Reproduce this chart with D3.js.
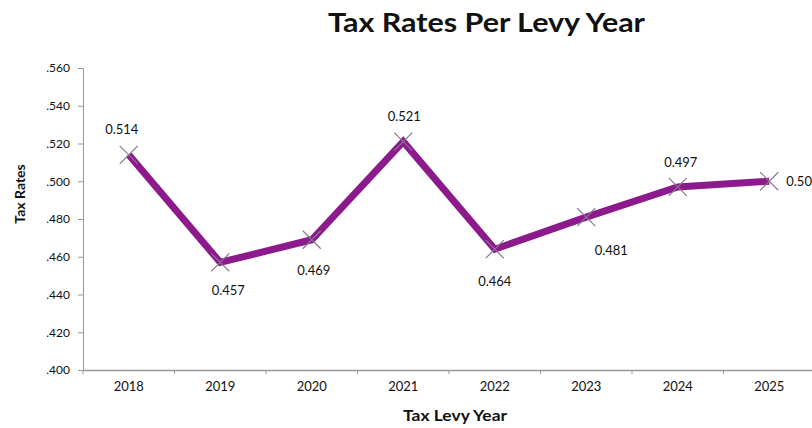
<!DOCTYPE html>
<html>
<head>
<meta charset="utf-8">
<script src="https://cdn.jsdelivr.net/npm/d3@7"></script>
<style>
  html, body { margin: 0; padding: 0; background: #fff; }
  svg { display: block; }
  text { font-family: Lato, "Open Sans", sans-serif; fill: #111; }
</style>
</head>
<body>
<svg id="chart" width="812" height="428"></svg>
<script>
// Levy years and their tax rates
const years = ["2018", "2019", "2020", "2021", "2022", "2023", "2024", "2025"];
const rates = [0.514, 0.457, 0.469, 0.521, 0.464, 0.481, 0.497, 0.500];
const rateLabels = ["0.514", "0.457", "0.469", "0.521", "0.464", "0.481", "0.497", "0.500"];
const yTicks = [0.40, 0.42, 0.44, 0.46, 0.48, 0.50, 0.52, 0.54, 0.56];
// where each value label sits relative to its point: [dx, dy]
const labelOffsets = [[-7, -21], [8, 33], [2, 35], [1, -21], [0, 37], [25, 38], [3, -20], [17, 5]];

const svg = d3.select("#chart");
const m = { left: 83, right: 815, top: 68, bottom: 370 };

const x = d3.scaleBand().domain(years).range([m.left, m.right]);
const y = d3.scaleLinear().domain([0.40, 0.56]).range([m.bottom, m.top]);

// Y axis
const yAxis = svg.append("g")
  .attr("transform", `translate(${m.left},0)`)
  .call(d3.axisLeft(y).tickValues(yTicks).tickSize(5).tickPadding(8)
    .tickFormat(d => d3.format(".3f")(d).replace(/^0/, "")));
yAxis.selectAll("path, line").attr("stroke", "#999");
yAxis.selectAll("text").attr("font-size", 12).attr("fill", "#222");

// X axis with ticks between categories
const xAxis = svg.append("g")
  .attr("transform", `translate(0,${m.bottom})`)
  .call(d3.axisBottom(x).tickSize(0).tickPadding(12));
xAxis.select("path").attr("stroke", "#999").attr("stroke-width", 1.5);
xAxis.selectAll("text").attr("font-size", 13).attr("fill", "#222");
svg.append("g").selectAll("line")
  .data(years.concat(["end"]))
  .join("line")
  .attr("x1", (d, i) => m.left + i * x.step())
  .attr("x2", (d, i) => m.left + i * x.step())
  .attr("y1", m.bottom)
  .attr("y2", m.bottom + 4)
  .attr("stroke", "#999");

// Rate line
const cx = (d, i) => x(years[i]) + x.bandwidth() / 2;
const line = d3.line().x((d, i) => cx(d, i)).y(d => y(d));
svg.append("path")
  .datum(rates)
  .attr("d", line)
  .attr("fill", "none")
  .attr("stroke", "#8c1a8c")
  .attr("stroke-width", 7)
  .attr("stroke-linejoin", "miter");

// X-shaped markers
const mk = 9;
const markers = svg.append("g");
rates.forEach((d, i) => {
  const px = cx(d, i), py = y(d);
  markers.append("path")
    .attr("d", `M${px - mk},${py - mk}L${px + mk},${py + mk}M${px - mk},${py + mk}L${px + mk},${py - mk}`)
    .attr("stroke", "#8a7590")
    .attr("stroke-width", 1.2)
    .attr("fill", "none");
});

// Value labels
svg.append("g").selectAll("text")
  .data(rates)
  .join("text")
  .attr("x", (d, i) => cx(d, i) + labelOffsets[i][0])
  .attr("y", (d, i) => y(d) + labelOffsets[i][1])
  .attr("text-anchor", (d, i) => i === 7 ? "start" : "middle")
  .attr("font-size", 13)
  .text((d, i) => rateLabels[i]);

// Titles
svg.append("text")
  .attr("x", 328).attr("y", 32)
  .attr("font-size", 27).attr("font-weight", "bold")
  .attr("textLength", 317).attr("lengthAdjust", "spacingAndGlyphs")
  .text("Tax Rates Per Levy Year");

svg.append("text")
  .attr("x", 403).attr("y", 421)
  .attr("font-size", 15).attr("font-weight", "bold")
  .attr("textLength", 104).attr("lengthAdjust", "spacingAndGlyphs")
  .text("Tax Levy Year");

svg.append("text")
  .attr("transform", "translate(25,194) rotate(-90)")
  .attr("text-anchor", "middle")
  .attr("font-size", 14).attr("font-weight", "bold")
  .text("Tax Rates");
</script>
</body>
</html>
